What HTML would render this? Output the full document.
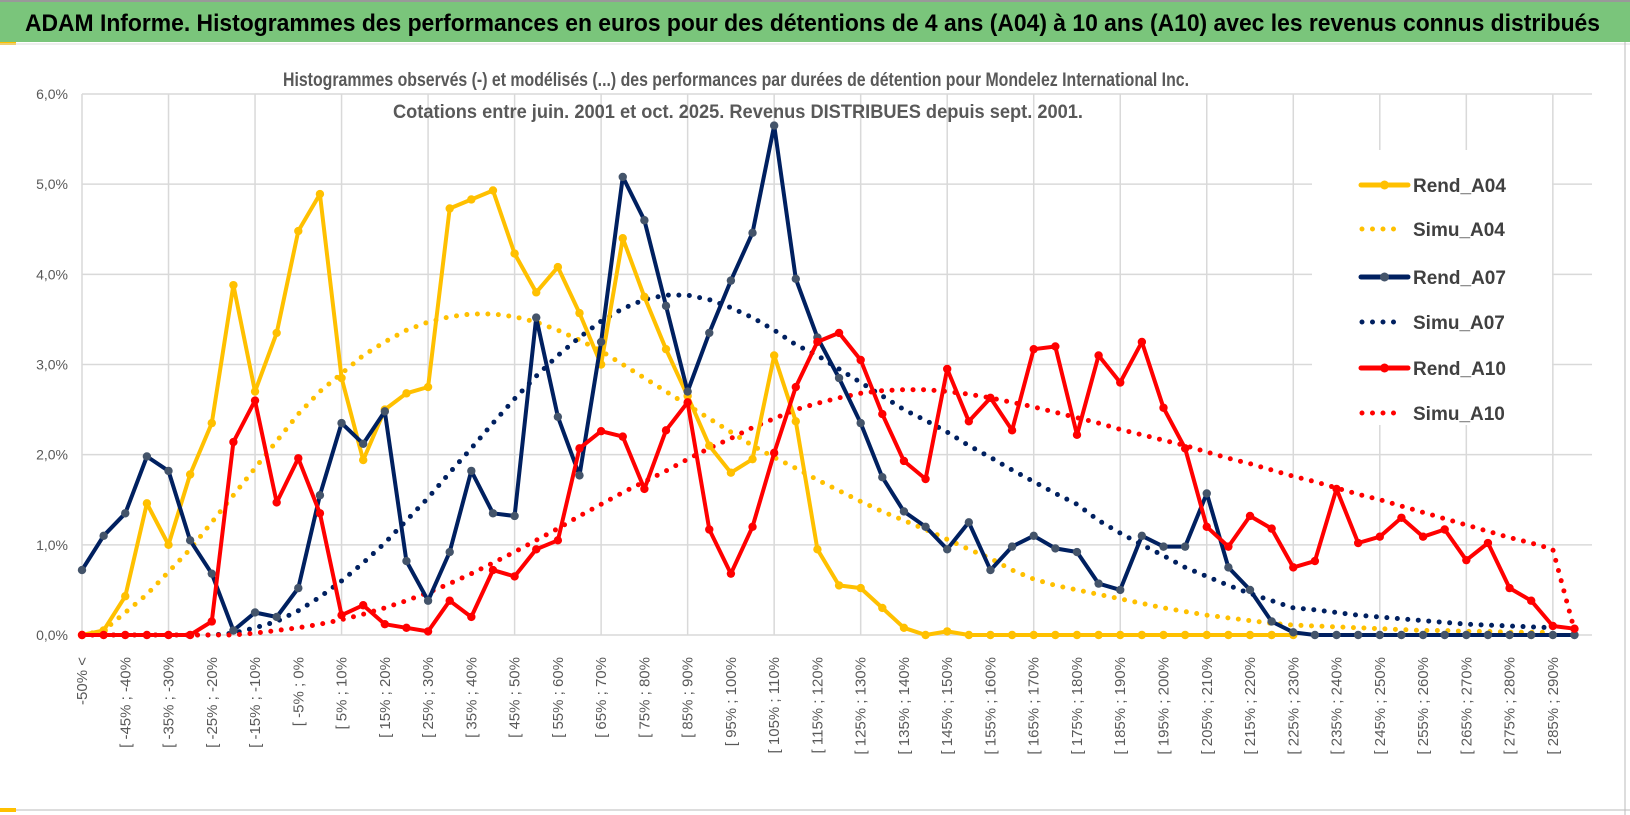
<!DOCTYPE html>
<html><head><meta charset="utf-8"><style>
html,body{margin:0;padding:0;background:#fff;}
svg{display:block;font-family:"Liberation Sans",sans-serif;}
</style></head><body>
<svg id="chart" width="1630" height="815" viewBox="0 0 1630 815" xmlns="http://www.w3.org/2000/svg">
<rect x="0" y="0" width="1630" height="815" fill="#fff"/>
<rect x="0" y="0" width="1630" height="42" fill="#7ac57b"/>
<line x1="0" y1="1" x2="1630" y2="1" stroke="#999" stroke-width="2"/>
<text x="25" y="31" font-size="24" font-weight="bold" fill="#000" textLength="1575" lengthAdjust="spacingAndGlyphs">ADAM Informe. Histogrammes des performances en euros pour des détentions de 4 ans (A04) à 10 ans (A10) avec les revenus connus distribués</text>
<rect x="0" y="42" width="16" height="3" fill="#ffc000"/>
<line x1="0" y1="44" x2="1630" y2="44" stroke="#ddd" stroke-width="1"/>
<line x1="1625" y1="42" x2="1625" y2="815" stroke="#bbb" stroke-width="1"/>
<line x1="0" y1="810" x2="1630" y2="810" stroke="#bbb" stroke-width="1"/>
<rect x="0" y="808" width="16" height="4" fill="#ffc000"/>
<g id="grid"></g>
<g id="yaxis"></g>
<g id="xaxis"></g>
<g id="series"></g>
<rect x="1312" y="150" width="240" height="275" fill="#fff"/>
<g id="legend"></g>
<text x="736" y="86" font-size="19" font-weight="bold" fill="#595959" text-anchor="middle" textLength="906" lengthAdjust="spacingAndGlyphs">Histogrammes observés (-) et modélisés (...) des performances par durées de détention pour Mondelez International Inc.</text>
<text x="738" y="118" font-size="19" font-weight="bold" fill="#595959" text-anchor="middle" textLength="690" lengthAdjust="spacingAndGlyphs">Cotations entre juin. 2001 et oct. 2025. Revenus DISTRIBUES depuis sept. 2001.</text>
</svg>
<script>
const categories = (function(){const a=["-50% <"];for(let n=1;n<70;n++){a.push("[ "+(-55+5*n)+"% ; "+(-50+5*n)+"%");}return a;})();
const yTicks = [0,1,2,3,4,5,6];
const yTickLabels = ["0,0%","1,0%","2,0%","3,0%","4,0%","5,0%","6,0%"];
const rendA04 = [0,0.05,0.43,1.46,1.0,1.78,2.35,3.88,2.7,3.35,4.48,4.89,2.85,1.94,2.5,2.68,2.75,4.73,4.83,4.93,4.23,3.8,4.08,3.57,3.0,4.4,3.75,3.17,2.65,2.1,1.8,1.95,3.1,2.37,0.95,0.55,0.52,0.3,0.08,0.0,0.04,0,0,0,0,0,0,0,0,0,0,0,0,0,0,0,0];
const simuA04 = [0,0.05,0.25,0.45,0.7,0.95,1.25,1.55,1.85,2.15,2.45,2.7,2.9,3.1,3.25,3.38,3.47,3.53,3.56,3.56,3.53,3.47,3.38,3.27,3.15,3.0,2.85,2.7,2.55,2.4,2.25,2.1,1.97,1.85,1.72,1.6,1.48,1.37,1.27,1.17,1.06,0.95,0.85,0.72,0.62,0.55,0.5,0.45,0.4,0.35,0.3,0.26,0.22,0.19,0.16,0.13,0.11,0.1,0.09,0.08,0.07,0.06,0.05,0.05,0.04,0.04,0.03,0.03,0.03];
const rendA07 = [0.72,1.1,1.35,1.98,1.82,1.05,0.68,0.05,0.25,0.2,0.52,1.55,2.35,2.12,2.48,0.82,0.38,0.92,1.82,1.35,1.32,3.52,2.42,1.77,3.25,5.08,4.6,3.65,2.7,3.35,3.93,4.46,5.65,3.95,3.3,2.85,2.35,1.75,1.37,1.2,0.95,1.25,0.72,0.98,1.1,0.96,0.92,0.57,0.5,1.1,0.98,0.98,1.57,0.75,0.5,0.15,0.03,0,0,0,0,0,0,0,0,0,0,0,0,0];
const simuA07 = [0,0,0,0,0,0,0,0.02,0.08,0.15,0.27,0.42,0.6,0.8,1.02,1.27,1.52,1.8,2.07,2.35,2.62,2.87,3.1,3.3,3.48,3.62,3.72,3.77,3.77,3.72,3.63,3.52,3.38,3.22,3.1,2.95,2.8,2.65,2.5,2.38,2.25,2.1,1.97,1.83,1.7,1.57,1.45,1.27,1.13,1.0,0.88,0.75,0.65,0.55,0.46,0.38,0.3,0.28,0.25,0.22,0.2,0.18,0.16,0.14,0.12,0.11,0.1,0.09,0.08];
const rendA10 = [0,0,0,0,0,0,0.15,2.14,2.6,1.47,1.96,1.35,0.22,0.33,0.12,0.08,0.04,0.38,0.2,0.72,0.65,0.95,1.05,2.07,2.26,2.2,1.62,2.27,2.58,1.17,0.68,1.2,2.02,2.75,3.25,3.35,3.05,2.45,1.93,1.73,2.95,2.37,2.63,2.27,3.17,3.2,2.22,3.1,2.8,3.25,2.52,2.07,1.2,0.98,1.32,1.18,0.75,0.82,1.62,1.02,1.09,1.3,1.09,1.17,0.83,1.02,0.52,0.38,0.1,0.07];
const simuA10 = [0,0,0,0,0,0,0,0,0.02,0.05,0.08,0.12,0.17,0.23,0.3,0.38,0.47,0.57,0.68,0.8,0.92,1.05,1.18,1.32,1.45,1.58,1.7,1.82,1.95,2.07,2.18,2.3,2.4,2.5,2.57,2.63,2.68,2.71,2.72,2.72,2.7,2.67,2.63,2.58,2.53,2.47,2.41,2.35,2.28,2.22,2.16,2.1,2.03,1.96,1.9,1.83,1.76,1.7,1.63,1.56,1.5,1.43,1.36,1.29,1.22,1.15,1.08,1.02,0.95,0.05];
const seriesNames = ["Rend_A04","Simu_A04","Rend_A07","Simu_A07","Rend_A10","Simu_A10"];

const NS="http://www.w3.org/2000/svg";
const X0=82, DX=21.63, Y0=635, PY=90.17;
function xs(i){return X0+i*DX;}
function ys(v){return Y0-v*PY;}
function mk(tag,attrs,parent){const e=document.createElementNS(NS,tag);for(const k in attrs)e.setAttribute(k,attrs[k]);parent.appendChild(e);return e;}

const grid=document.getElementById('grid');
yTicks.forEach(function(t){
  const l=mk('line',{x1:X0,x2:1592,y1:ys(t),y2:ys(t),stroke:'#d9d9d9','stroke-width':1.5},grid);
  
  
});
for(let i=0;i<categories.length;i+=4){
  const l=mk('line',{x1:xs(i),x2:xs(i),y1:ys(6),y2:Y0,stroke:'#d9d9d9','stroke-width':1.5},grid);
  
  
}
const yax=document.getElementById('yaxis');
yTicks.forEach(function(t,k){
  const e=mk('text',{x:68,y:ys(t)+5,'font-size':14,fill:'#595959','text-anchor':'end'},yax);
  e.textContent=yTickLabels[k];
  
  
});
const xax=document.getElementById('xaxis');
categories.forEach(function(c,i){
  if(i!==0 && i%2!==0) return;
  const x=xs(i)+5, y=657;
  const e=mk('text',{x:x,y:y,'font-size':15,fill:'#595959','text-anchor':'end',transform:'rotate(-90 '+x+' '+y+')'},xax);
  e.textContent=c;
  
  
});

const ser=document.getElementById('series');
function pathOf(arr){return arr.map(function(v,i){return (i?'L':'M')+xs(i).toFixed(1)+' '+ys(v).toFixed(1);}).join(' ');}
function dotted(arr,color,name){
  const p=mk('path',{d:pathOf(arr),fill:'none',stroke:color,'stroke-width':5,'stroke-linecap':'round','stroke-dasharray':'0 10.5'},ser);
  
  
}
function solid(arr,color,mcolor,name){
  const g=mk('g',{},ser);
  
  
  mk('path',{d:pathOf(arr),fill:'none',stroke:color,'stroke-width':4,'stroke-linejoin':'round'},g);
  arr.forEach(function(v,i){
    const c=mk('circle',{cx:xs(i),cy:ys(v),r:4.2,fill:mcolor},g);
    
    
  });
}
dotted(simuA04,'#ffc000','simu-a04-line');
dotted(simuA07,'#002060','simu-a07-line');
dotted(simuA10,'#ff0000','simu-a10-line');
solid(rendA04,'#ffc000','#ffc000','rend-a04-line');
solid(rendA07,'#002060','#44546a','rend-a07-line');
solid(rendA10,'#ff0000','#ff0000','rend-a10-line');

const leg=document.getElementById('legend');
const legColors=['#ffc000','#ffc000','#002060','#002060','#ff0000','#ff0000'];
const legY=[185,229,277,322,368,413];
seriesNames.forEach(function(n,k){
  const g=mk('g',{},leg);
  
  
  const y=legY[k];
  if(k%2===0){
    mk('line',{x1:1361,x2:1408,y1:y,y2:y,stroke:legColors[k],'stroke-width':5,'stroke-linecap':'round'},g);
    mk('circle',{cx:1384.5,cy:y,r:4.5,fill:k===2?'#44546a':legColors[k]},g);
  } else {
    mk('line',{x1:1362,x2:1400,y1:y,y2:y,stroke:legColors[k],'stroke-width':5,'stroke-linecap':'round','stroke-dasharray':'0 10.5'},g);
  }
  const t=mk('text',{x:1413,y:y+7,'font-size':19,fill:'#404040','font-weight':'bold'},g);
  t.textContent=n;
});
</script>
</body></html>
